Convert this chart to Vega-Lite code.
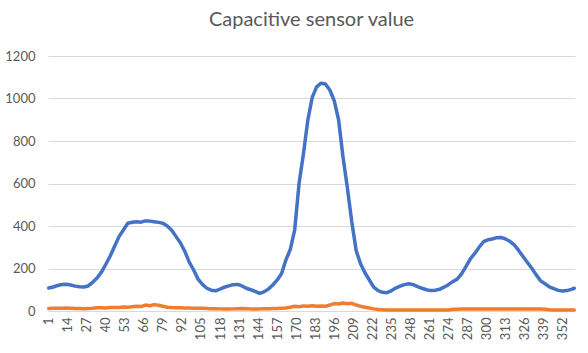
{
  "$schema": "https://vega.github.io/schema/vega-lite/v6.json",
  "autosize": "none",
  "width": 527,
  "height": 255,
  "padding": {"left": 48, "top": 56, "right": 13, "bottom": 42},
  "background": "white",
  "title": {"text": "Capacitive sensor value", "font": "Lato", "fontSize": 20, "fontWeight": "normal", "color": "#595959", "anchor": "middle", "offset": 20},
  "data": {"values": [
    {"i":1,"a":108,"b":12},{"i":4,"a":113,"b":13},{"i":7,"a":120,"b":13},{"i":10,"a":125,"b":13},{"i":13,"a":126,"b":14},
    {"i":16,"a":122,"b":13},{"i":19,"a":117,"b":12},{"i":22,"a":114,"b":12},{"i":25,"a":113,"b":11},{"i":28,"a":118,"b":12},
    {"i":31,"a":135,"b":13},{"i":34,"a":155,"b":15},{"i":37,"a":183,"b":15},{"i":40,"a":220,"b":14},{"i":43,"a":259,"b":16},
    {"i":46,"a":305,"b":16},{"i":49,"a":350,"b":17},{"i":52,"a":381,"b":19},{"i":55,"a":413,"b":18},{"i":58,"a":418,"b":20},
    {"i":61,"a":420,"b":22},{"i":64,"a":418,"b":21},{"i":67,"a":424,"b":28},{"i":70,"a":423,"b":25},{"i":73,"a":420,"b":30},
    {"i":76,"a":417,"b":27},{"i":79,"a":413,"b":22},{"i":82,"a":400,"b":18},{"i":85,"a":380,"b":16},{"i":88,"a":350,"b":15},
    {"i":91,"a":320,"b":15},{"i":94,"a":280,"b":14},{"i":97,"a":230,"b":14},{"i":100,"a":193,"b":13},{"i":103,"a":150,"b":13},
    {"i":106,"a":125,"b":13},{"i":109,"a":107,"b":12},{"i":112,"a":98,"b":11},{"i":115,"a":95,"b":11},{"i":118,"a":103,"b":10},
    {"i":121,"a":112,"b":9},{"i":124,"a":118,"b":9},{"i":127,"a":124,"b":10},{"i":130,"a":125,"b":11},{"i":133,"a":118,"b":12},
    {"i":136,"a":107,"b":11},{"i":139,"a":100,"b":10},{"i":142,"a":92,"b":10},{"i":145,"a":83,"b":10},{"i":148,"a":90,"b":11},
    {"i":151,"a":103,"b":11},{"i":154,"a":122,"b":12},{"i":157,"a":145,"b":12},{"i":160,"a":175,"b":13},{"i":163,"a":240,"b":14},
    {"i":166,"a":290,"b":18},{"i":169,"a":381,"b":22},{"i":172,"a":600,"b":20},{"i":175,"a":740,"b":24},{"i":178,"a":899,"b":22},
    {"i":181,"a":1005,"b":25},{"i":184,"a":1055,"b":22},{"i":187,"a":1072,"b":24},{"i":190,"a":1068,"b":22},{"i":193,"a":1040,"b":28},
    {"i":196,"a":990,"b":35},{"i":199,"a":900,"b":33},{"i":202,"a":726,"b":38},{"i":205,"a":580,"b":34},{"i":208,"a":420,"b":36},
    {"i":211,"a":285,"b":28},{"i":214,"a":222,"b":22},{"i":217,"a":180,"b":18},{"i":220,"a":146,"b":14},{"i":223,"a":112,"b":10},
    {"i":226,"a":96,"b":7},{"i":229,"a":88,"b":6},{"i":232,"a":86,"b":5},{"i":235,"a":95,"b":5},{"i":238,"a":108,"b":5},
    {"i":241,"a":117,"b":5},{"i":244,"a":124,"b":5},{"i":247,"a":128,"b":5},{"i":250,"a":124,"b":5},{"i":253,"a":115,"b":5},
    {"i":256,"a":107,"b":5},{"i":259,"a":100,"b":5},{"i":262,"a":96,"b":5},{"i":265,"a":98,"b":5},{"i":268,"a":102,"b":5},
    {"i":271,"a":112,"b":5},{"i":274,"a":124,"b":5},{"i":277,"a":138,"b":8},{"i":280,"a":150,"b":8},{"i":283,"a":175,"b":9},
    {"i":286,"a":209,"b":9},{"i":289,"a":245,"b":9},{"i":292,"a":271,"b":9},{"i":295,"a":300,"b":9},{"i":298,"a":326,"b":9},
    {"i":301,"a":335,"b":9},{"i":304,"a":339,"b":9},{"i":307,"a":345,"b":9},{"i":310,"a":346,"b":9},{"i":313,"a":339,"b":9},
    {"i":316,"a":328,"b":9},{"i":319,"a":311,"b":9},{"i":322,"a":285,"b":9},{"i":325,"a":256,"b":9},{"i":328,"a":228,"b":9},
    {"i":331,"a":201,"b":9},{"i":334,"a":170,"b":9},{"i":337,"a":142,"b":9},{"i":340,"a":128,"b":8},{"i":343,"a":114,"b":6},
    {"i":346,"a":105,"b":5},{"i":349,"a":97,"b":5},{"i":352,"a":94,"b":5},{"i":355,"a":96,"b":5},{"i":358,"a":102,"b":5},
    {"i":360,"a":107,"b":5}
  ]},
  "transform": [{"fold": ["a", "b"], "as": ["series", "value"]}],
  "mark": {"type": "line", "strokeWidth": 3.5, "strokeCap": "round", "strokeJoin": "round"},
  "encoding": {
    "x": {"field": "i", "type": "quantitative", "scale": {"domain": [0.5, 360.5], "nice": false, "zero": false},
      "axis": {"title": null, "values": [1,14,27,40,53,66,79,92,105,118,131,144,157,170,183,196,209,222,235,248,261,274,287,300,313,326,339,352],
        "format": "d", "labelAngle": -90, "labelAlign": "right", "labelBaseline": "middle", "grid": false, "ticks": false, "domainColor": "#D9D9D9", "domainWidth": 1,
        "labelFont": "Lato", "labelFontSize": 13, "labelColor": "#595959", "labelPadding": 6, "labelOverlap": false, "labelBound": false, "labelFlush": false}},
    "y": {"field": "value", "type": "quantitative", "scale": {"domain": [0, 1200], "nice": false},
      "axis": {"title": null, "values": [0,200,400,600,800,1000,1200], "format": "d", "domain": false, "ticks": false, "gridColor": "#D9D9D9", "gridWidth": 1,
        "labelFont": "Lato", "labelFontSize": 13, "labelColor": "#595959", "labelPadding": 13}},
    "color": {"field": "series", "type": "nominal", "scale": {"domain": ["a", "b"], "range": ["#4472C4", "#ED7D31"]}, "legend": null}
  },
  "config": {"view": {"stroke": null}}
}
